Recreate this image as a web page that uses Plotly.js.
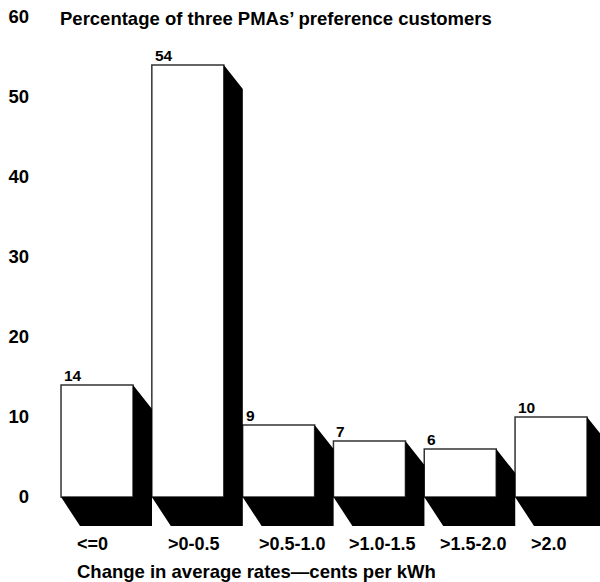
<!DOCTYPE html>
<html>
<head>
<meta charset="utf-8">
<script src="https://cdn.plot.ly/plotly-3.0.1.min.js"></script>
<style>html,body{margin:0;padding:0;background:#fff;}#chart{width:600px;height:582px;}</style>
</head>
<body>
<div id="chart"></div>
<script>
// ---- data ----
const categories = ['<=0', '>0-0.5', '>0.5-1.0', '>1.0-1.5', '>1.5-2.0', '>2.0'];
const values = [14, 54, 9, 7, 6, 10];
const yTickVals = [0, 10, 20, 30, 40, 50, 60];
const yTickText = ['0', '10', '20', '30', '40', '50', '60'];
const chartTitle = 'Percentage of three PMAs\u2019 preference customers';
const xAxisTitle = 'Change in average rates\u2014cents per kWh';

// ---- style ----
const FONT = 'Liberation Sans, Arial, Helvetica, sans-serif';
const barWidth = 0.793;
const depthX = 0.209;      // horizontal extrusion (x units)
const depthTop = 3.0;      // vertical drop of shadow at bar top (y units)
const depthBottom = 3.625; // vertical drop of floor (y units)

const xs = categories.map((c, i) => i);
const traces = [];

// shadows / floors (black extrusion)
values.forEach((v, i) => {
  const xL = xs[i] - barWidth / 2, xR = xs[i] + barWidth / 2;
  traces.push({
    type: 'scatter', mode: 'lines', fill: 'toself', fillcolor: '#000',
    line: {width: 0, color: '#000'}, hoverinfo: 'skip', showlegend: false,
    x: [xL, xL + depthX, xR + depthX, xR + depthX, xR, xR, xL],
    y: [0, -depthBottom, -depthBottom, v - depthTop, v, 0, 0]
  });
});

// front faces
traces.push({
  type: 'bar', x: xs, y: values, width: barWidth,
  marker: {color: '#fff', line: {color: '#333', width: 1.5}},
  hoverinfo: 'skip', showlegend: false
});

const annotations = [];
values.forEach((v, i) => {
  const xL = xs[i] - barWidth / 2;
  annotations.push({
    x: xL, y: v, xref: 'x', yref: 'y', text: String(v), showarrow: false,
    xanchor: 'left', yanchor: 'bottom', xshift: 1, yshift: -1,
    font: {family: FONT, size: 15.5, color: '#000', weight: 'bold'}
  });
  annotations.push({
    x: xL, y: -5.9, xref: 'x', yref: 'y', text: categories[i], showarrow: false,
    xanchor: 'left', yanchor: 'middle', xshift: 14,
    font: {family: FONT, size: 18, color: '#000', weight: 'bold'}
  });
});
annotations.push({
  x: xs[0] - barWidth / 2, y: -9.3, xref: 'x', yref: 'y', text: xAxisTitle, showarrow: false,
  xanchor: 'left', yanchor: 'middle', xshift: 14,
  font: {family: FONT, size: 18.5, color: '#000', weight: 'bold'}
});
annotations.push({
  x: 0.032, y: 59.8, xref: 'paper', yref: 'y', text: chartTitle, showarrow: false,
  xanchor: 'left', yanchor: 'middle',
  font: {family: FONT, size: 18.5, color: '#000', weight: 'bold'}
});

const layout = {
  width: 600, height: 582,
  margin: {l: 40, r: 0, t: 17, b: 1, pad: 0},
  paper_bgcolor: '#fff', plot_bgcolor: '#fff',
  showlegend: false,
  xaxis: {range: [-0.628, 5.539], showgrid: false, zeroline: false, showline: false,
          showticklabels: false, ticks: '', fixedrange: true},
  yaxis: {range: [-10.5, 60], showgrid: false, zeroline: false, showline: false,
          tickmode: 'array', tickvals: yTickVals, ticktext: yTickText, ticks: '',
          ticklabelstandoff: 10,
          tickfont: {family: FONT, size: 18.5, color: '#000', weight: 'bold'}, fixedrange: true},
  annotations: annotations
};

Plotly.newPlot('chart', traces, layout, {displayModeBar: false, staticPlot: true});
</script>
</body>
</html>
